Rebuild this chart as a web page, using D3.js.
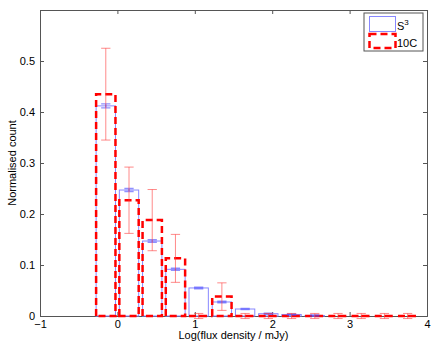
<!DOCTYPE html>
<html>
<head>
<meta charset="utf-8">
<script src="https://cdn.jsdelivr.net/npm/d3@7"></script>
<style>
  body { margin: 0; background: #fff; }
  svg text { font-family: "Liberation Sans", Arial, sans-serif; font-size: 11px; fill: #000; }
</style>
</head>
<body>
<svg id="chart" width="436" height="348"></svg>
<script>
// bin centres in log(flux density / mJy)
const binCentres = [-0.15, 0.15, 0.45, 0.75, 1.05, 1.35, 1.65, 1.95, 2.25, 2.55, 2.85, 3.15, 3.45, 3.75]
const s3Counts = [0.412, 0.247, 0.147, 0.0915, 0.055, 0.0275, 0.0137, 0.0045, 0.003, 0.001, 0, 0, 0, 0]
const s3Errors = [0.004, 0.003, 0.0025, 0.002, 0.0015, 0.0015, 0.0012, 0.001, 0.001, 0.001, 0, 0, 0, 0]
const tenCCounts = [0.435, 0.227, 0.188, 0.113, 0, 0.038, 0, 0, 0, 0, 0, 0, 0, 0]
const tenCErrors = [0.09, 0.065, 0.06, 0.047, 0.005, 0.027, 0.005, 0.005, 0.005, 0.005, 0.005, 0.005, 0.005, 0.005]
const xTicks = [-1, 0, 1, 2, 3, 4]
const yTicks = [0, 0.1, 0.2, 0.3, 0.4, 0.5]
const binWidth = 0.25
const capHalf = 0.06

const margin = {top: 10, right: 9, bottom: 32, left: 40}
const W = 436, H = 348
const svg = d3.select("#chart")

const x = d3.scaleLinear().domain([-1, 4]).range([margin.left, W - margin.right])
const y = d3.scaleLinear().domain([0, 0.6]).range([H - margin.bottom, margin.top])

const axisColor = "#555"
const fmtX = d => d < 0 ? "\u2212" + Math.abs(d) : String(d)

// bottom / top / left / right axes, ticks inside like matlab
svg.append("g")
    .attr("transform", `translate(0,${y(0)})`)
    .call(d3.axisBottom(x).tickValues(xTicks).tickSize(-4).tickPadding(4).tickFormat(fmtX))
svg.append("g")
    .attr("transform", `translate(0,${y(0.6)})`)
    .call(d3.axisTop(x).tickValues(xTicks).tickSize(-4).tickFormat(""))
svg.append("g")
    .attr("transform", `translate(${x(-1)},0)`)
    .call(d3.axisLeft(y).tickValues(yTicks).tickSize(-4).tickPadding(5).tickFormat(d => d === 0 ? "0" : d3.format(".1f")(d)))
svg.append("g")
    .attr("transform", `translate(${x(4)},0)`)
    .call(d3.axisRight(y).tickValues(yTicks).tickSize(-4).tickFormat(""))
svg.selectAll(".domain, .tick line").attr("stroke", axisColor)
svg.selectAll(".tick text").style("font-size", "11px")

// S3 bars
svg.append("g")
    .selectAll("rect")
    .data(binCentres)
    .join("rect")
        .attr("x", d => x(d - binWidth/2))
        .attr("y", (d, i) => y(s3Counts[i]))
        .attr("width", x(binWidth) - x(0))
        .attr("height", (d, i) => y(0) - y(s3Counts[i]))
        .attr("fill", "none")
        .attr("stroke", "#8888ff")
        .attr("stroke-width", 1)

// 10C bars
svg.append("g")
    .selectAll("path")
    .data(binCentres)
    .join("path")
        .attr("d", (d, i) => {
            let x0 = x(d - binWidth/2), x1 = x(d + binWidth/2)
            let yb = y(0), yt = y(tenCCounts[i])
            return `M ${x0},${yb} L ${x0},${yt} L ${x1},${yt} L ${x1},${yb} Z`
        })
        .attr("fill", "none")
        .attr("stroke", "#ff0000")
        .attr("stroke-width", 2.5)
        .attr("stroke-dasharray", "7,4")

function errorBars(values, errors, color, width) {
    let g = svg.append("g")
        .attr("stroke", color)
        .attr("stroke-width", width)
        .attr("fill", "none")
    let items = binCentres.map((c, i) => ({c, v: values[i], e: errors[i]})).filter(d => d.e > 0)
    g.selectAll("path")
        .data(items)
        .join("path")
            .attr("d", d => {
                let lo = y(d.v - d.e), hi = y(d.v + d.e)
                let xl = x(d.c - capHalf), xr = x(d.c + capHalf), xc = x(d.c)
                return `M ${xc},${lo} L ${xc},${hi} M ${xl},${lo} L ${xr},${lo} M ${xl},${hi} L ${xr},${hi}`
            })
}
errorBars(s3Counts, s3Errors, "rgba(70,70,255,0.6)", 1.4)
errorBars(tenCCounts, tenCErrors, "rgba(255,60,60,0.6)", 1)

// axis labels
svg.append("text")
    .attr("x", (x(-1) + x(4)) / 2)
    .attr("y", 339)
    .attr("text-anchor", "middle")
    .text("Log(flux density / mJy)")
svg.append("text")
    .attr("transform", `translate(16,${(y(0) + y(0.6)) / 2}) rotate(-90)`)
    .attr("text-anchor", "middle")
    .text("Normalised count")

// legend
const legend = svg.append("g")
legend.append("rect")
    .attr("x", 364).attr("y", 13).attr("width", 59).attr("height", 38)
    .attr("fill", "#fff").attr("stroke", axisColor)
legend.append("rect")
    .attr("x", 369.5).attr("y", 16.5).attr("width", 26).attr("height", 15)
    .attr("fill", "none").attr("stroke", "#8888ff")
legend.append("rect")
    .attr("x", 369.5).attr("y", 34).attr("width", 26).attr("height", 14)
    .attr("fill", "none").attr("stroke", "#ff0000")
    .attr("stroke-width", 2.5).attr("stroke-dasharray", "7,4")
let s3Label = legend.append("text").attr("x", 397).attr("y", 30)
s3Label.append("tspan").text("S")
s3Label.append("tspan").attr("dy", -5).style("font-size", "8px").text("3")
legend.append("text").attr("x", 397).attr("y", 47).text("10C")
</script>
</body>
</html>
